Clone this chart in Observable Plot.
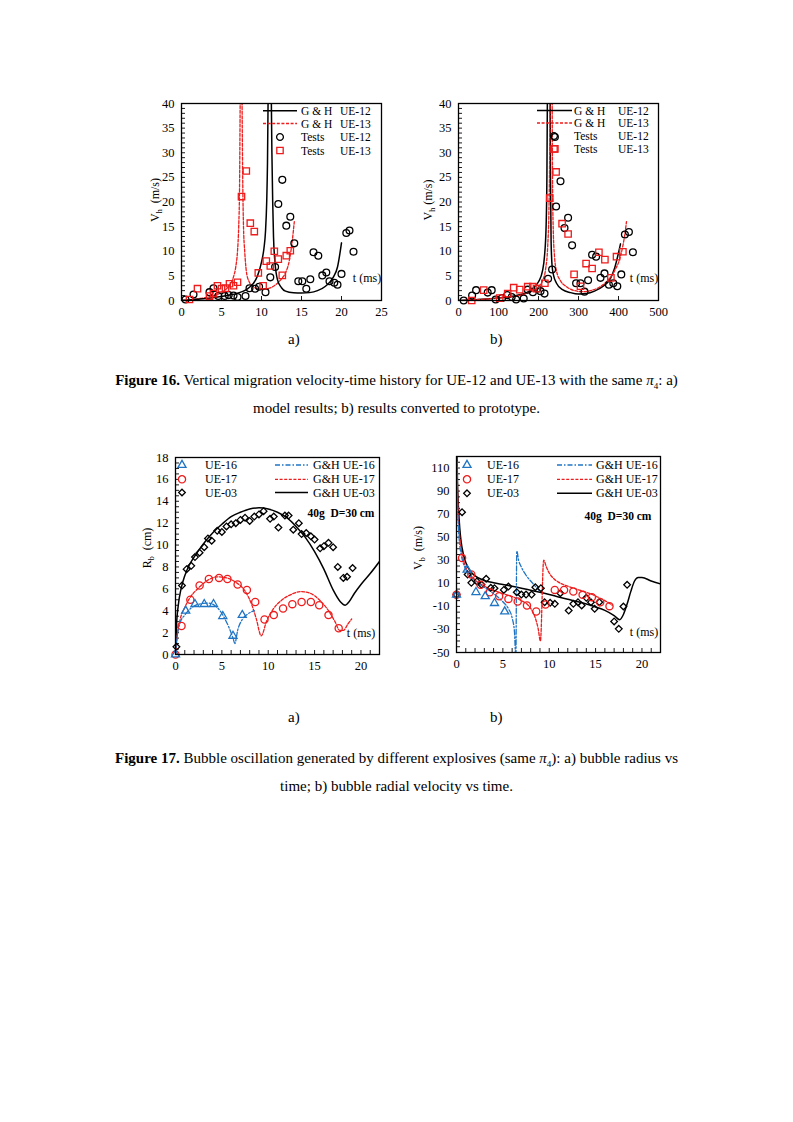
<!DOCTYPE html>
<html><head><meta charset="utf-8">
<script src="https://cdn.jsdelivr.net/npm/d3@7"></script>
<script src="https://cdn.jsdelivr.net/npm/@observablehq/plot@0.6"></script>
<style>
body{margin:0;background:#fff;width:793px;height:1122px;position:relative;overflow:hidden;font-family:"Liberation Serif","Times New Roman",serif;color:#000;}
.t{position:absolute;white-space:nowrap;}
.cap{position:absolute;left:0;width:793px;text-align:center;font-size:15px;line-height:18px;white-space:nowrap;}
.ylab{position:absolute;font-size:12px;white-space:nowrap;transform:translate(-50%,-50%) rotate(-90deg);}
</style></head><body>
<script>
// ---------------- DATA ----------------
// Figure 16 a) model scale (t in ms, Vh in m/s)
const testsUE12_a = [[0.5,0.2],[1.5,1.2],[3.5,1.7],[4.0,2.5],[4.6,0.9],[5.4,0.9],[5.9,1.1],[6.5,1.0],[7.0,0.7],[8.0,0.9],[8.5,2.5],[9.2,2.4],[9.7,2.8],[10.5,1.7],[11.1,4.7],[11.7,6.8],[12.1,19.6],[12.6,24.5],[13.1,15.2],[13.6,17.0],[14.1,11.6],[14.6,3.9],[15.1,3.9],[15.6,2.4],[16.1,4.3],[16.5,9.8],[17.1,9.1],[17.6,5.1],[18.1,5.7],[18.5,3.9],[19.1,3.6],[19.5,3.2],[20.0,5.4],[20.6,13.7],[21.0,14.2],[21.5,9.9]];
const testsUE13_a = [[1.0,0.2],[2.0,2.4],[3.5,0.9],[4.0,1.4],[4.5,3.0],[5.0,2.4],[5.5,2.5],[6.0,3.4],[6.5,3.0],[7.0,3.7],[7.5,21.1],[8.1,26.3],[8.6,15.7],[9.1,14.0],[9.6,5.6],[10.2,3.0],[10.6,8.0],[11.1,7.0],[11.6,10.0],[12.1,8.4],[12.6,5.1],[13.1,9.1],[13.6,10.1]];
const ghUE12_a_rise = [[0,0],[1,0.1],[2,0.25],[3,0.4],[4,0.6],[5,0.8],[6,1.1],[7,1.5],[8,2.1],[8.5,2.7],[9,3.5],[9.5,5.0],[10,7.8],[10.3,10.5],[10.5,14],[10.65,20],[10.75,28],[10.85,45]];
const ghUE12_a_fall = [[11.2,45],[11.3,30],[11.4,20],[11.5,13],[11.7,7.5],[12,4.2],[12.5,2.6],[13,1.9],[14,1.55],[15,1.5],[16,1.6],[17,2.0],[18,2.9],[19,4.8],[19.5,6.8],[20,11.7]];
const ghUE13_a_rise = [[0,0],[1,0.15],[2,0.35],[3,0.6],[4,1.0],[5,1.6],[5.5,2.2],[6,3.1],[6.5,4.8],[6.8,7],[7.0,10],[7.15,15],[7.25,22],[7.35,45]];
const ghUE13_a_fall = [[7.55,45],[7.65,25],[7.75,15],[7.9,10],[8.1,6],[8.4,4],[9,2.8],[9.5,2.4],[10,2.3],[10.5,2.3],[11,2.5],[11.5,2.9],[12,3.5],[12.5,4.4],[13,5.6],[13.5,8.3],[13.8,11.5],[14.1,16]];

// Figure 16 b) prototype scale
const testsUE12_b = [[13,0],[34,1.0],[44,2.1],[73,1.6],[83,2.1],[93,0.2],[109,0.5],[122,1.1],[133,0.7],[144,0.2],[163,0.4],[173,2.2],[186,1.7],[197,2.4],[205,1.9],[215,1.4],[224,4.4],[234,6.3],[241,33.2],[244,19.1],[255,24.2],[265,14.7],[274,16.8],[284,11.2],[294,3.5],[305,3.5],[315,1.8],[324,4.1],[334,9.3],[344,8.9],[355,4.6],[365,5.5],[376,3.2],[387,3.5],[397,2.9],[407,5.3],[416,13.4],[426,13.9],[436,9.8]];
const testsUE13_b = [[33,0],[63,2.1],[103,0.5],[123,1.4],[138,2.6],[153,2.2],[173,2.8],[186,2.8],[195,2.4],[216,3.5],[228,20.8],[241,30.8],[244,26.1],[259,15.6],[274,13.5],[289,5.3],[305,2.9],[319,7.5],[334,6.5],[351,9.8],[366,8.3],[381,4.6],[395,8.9],[411,9.9]];
const ghUE12_b_rise = [[0,0],[50,0.2],[100,0.5],[150,1.1],[175,1.8],[190,2.8],[200,3.8],[210,6],[215,9],[219,15],[221,25],[222.5,45]];
const ghUE12_b_fall = [[229,45],[230,25],[231.5,12],[234,7],[238,5],[245,3.5],[260,2.2],[280,1.6],[300,1.3],[320,1.4],[340,1.9],[360,2.8],[380,4.5],[390,6.5],[405,11.5]];
const ghUE13_b_rise = [[0,0],[50,0.2],[100,0.5],[150,1.0],[175,1.6],[200,2.8],[210,4],[218,6.5],[223,11],[226,18],[228,30],[229,45]];
const ghUE13_b_fall = [[234,45],[235,25],[237,14],[240,9],[245,6],[255,4],[270,2.8],[290,2.0],[310,1.8],[330,2.0],[350,2.6],[370,3.8],[390,6],[405,9],[415,13],[420,16]];

// Figure 17 a) bubble radius (cm)
const ue16R = [[0,0],[1.1,4.0],[2.1,4.6],[3.1,4.6],[4.1,4.6],[5.1,3.5],[6.2,1.7],[7.2,3.6]];
const ue17R = [[0,0],[0.65,2.6],[1.6,5.0],[2.6,6.3],[3.6,6.9],[4.7,7.0],[5.6,6.9],[6.7,6.4],[7.7,5.9],[8.6,4.8],[9.6,3.2],[10.6,3.6],[11.6,4.2],[12.6,4.6],[13.6,4.8],[14.6,4.8],[15.5,4.5],[16.5,3.6],[17.6,2.4]];
const ue03R = [[0.1,0.7],[0.7,6.3],[1.2,7.8],[1.7,8.1],[2.1,8.9],[2.6,9.3],[3.1,9.8],[3.5,10.6],[3.9,10.4],[4.5,11.3],[5.0,11.2],[5.5,11.7],[6.0,11.9],[6.5,12.0],[7.0,12.3],[7.5,12.5],[8.0,12.2],[8.5,12.6],[9.0,12.8],[9.5,13.1],[10.2,12.4],[10.6,12.6],[11.1,11.6],[11.8,12.7],[12.2,12.7],[12.7,11.4],[13.3,12.0],[13.6,11.0],[14.1,11.1],[14.6,10.8],[15.0,10.5],[15.6,9.7],[16.0,9.9],[16.5,10.2],[17.0,9.8],[17.5,8.0],[18.1,7.0],[18.5,7.1],[19.1,7.9]];
const ghUE16R = [[0,0],[0.2,1.8],[0.5,2.9],[1,3.6],[1.5,4.1],[2.5,4.6],[3.5,4.7],[4.2,4.5],[4.8,4.0],[5.3,3.3],[5.8,2.4],[6.2,1.5],[6.4,1.0],[6.7,2.2],[7.2,3.2],[7.8,3.7],[8.5,4.0]];
const ghUE17R = [[0,0],[0.2,1.8],[0.5,3.2],[1,4.3],[1.5,5.1],[2.5,6.1],[3.5,6.8],[4.5,7.1],[5.5,7.0],[6.5,6.6],[7.5,5.8],[8.2,4.6],[8.7,3.3],[9.25,1.7],[9.8,3.0],[10.5,4.1],[11.5,5.0],[12.5,5.5],[13.5,5.75],[14.5,5.6],[15.5,5.0],[16.5,4.0],[17.2,3.0],[17.7,2.2],[18.1,2.2],[18.6,2.8],[19,3.25]];
const ghUE03R = [[0,0],[0.1,2.5],[0.3,4.5],[0.6,6.0],[1,7.2],[1.5,8.2],[2,8.9],[3,10.1],[4,11.1],[5,11.9],[6,12.6],[7,13.0],[8,13.3],[9,13.4],[10,13.3],[11,13.0],[12,12.5],[13,11.7],[14,10.7],[15,9.4],[16,7.8],[17,5.9],[17.8,4.8],[18.3,4.5],[18.7,4.8],[19.3,5.6],[20,6.4],[21,7.4],[22,8.5]];

// Figure 17 b) bubble radial velocity (m/s)
const ue16V = [[0,0],[1.15,21.7],[2.1,2.3],[3.1,-1.2],[4.1,-7.2],[5.2,-14.5]];
const ue17V = [[0,0],[0.6,32],[1.6,17.6],[2.6,8.7],[3.6,2.3],[4.6,-1.2],[5.6,-3.5],[6.6,-5.8],[7.6,-9.2],[8.6,-14.5],[9.6,-8.4],[10.6,4.3],[11.6,4.3],[12.6,2.9],[13.6,0],[14.6,-2],[15.5,-6.4],[16.5,-9.8]];
const ue03V = [[0,0],[0.6,71.7],[1.2,17.6],[1.6,10.4],[2.2,11.6],[2.7,8.7],[3.2,13.9],[3.7,6.1],[4.1,5.8],[5.1,4.3],[5.6,7.2],[6.5,2.3],[7.0,0.3],[7.5,0.3],[8.1,0.3],[8.5,6.6],[9.1,5.8],[9.5,-6.4],[10.1,-6.9],[10.6,-7.8],[11.2,1.4],[12.1,-13.6],[12.6,-7.8],[13.1,-6.4],[13.5,-9.2],[14.0,-2.6],[14.5,-6.4],[14.9,-12.1],[15.4,-6.4],[17.0,-23.1],[17.5,-29.5],[18.0,-10.1],[18.4,8.7]];
const ghUE16V = [[0.05,115],[0.1,85],[0.2,60],[0.35,43],[0.5,35],[0.75,27],[1,22],[1.5,16],[2,12],[3,6.5],[4,1],[5,-6],[5.6,-12],[6.0,-20],[6.25,-32],[6.4,-55],[6.5,38],[6.7,30],[7,24],[7.5,17],[8,12],[8.5,7.5],[8.9,4]];
const ghUE17V = [[0.05,120],[0.1,95],[0.2,68],[0.35,50],[0.5,40],[0.75,30],[1,24],[1.5,17.5],[2,13],[3,7.5],[4,4],[5,1],[6,-1.5],[7,-5],[7.6,-8],[8.1,-13],[8.5,-20],[8.8,-29],[9.05,-40],[9.4,30],[9.7,24],[10,19],[10.5,14],[11,11],[12,7.5],[13,4.8],[14,2.2],[15,-1],[16,-5],[16.8,-9]];
const ghUE03V = [[0.05,125],[0.1,100],[0.2,78],[0.35,58],[0.5,46],[0.75,35],[1,28],[1.5,20.5],[2,16.5],[3,12.5],[4,10.5],[5,9],[6,7.5],[7,5.8],[8,4],[9,2.2],[10,0.3],[11,-1.8],[12,-3.8],[13,-5.8],[14,-8],[15,-10.5],[16,-13.5],[17,-18],[17.6,-21.5],[18,-17],[18.4,-8],[18.8,3],[19.2,12],[19.6,15],[20,15],[21,12],[22,9.5]];

// tick labels
const ticks16aX = [0,5,10,15,20,25];
const ticks16bX = [0,100,200,300,400,500];
const ticks16Y = [0,5,10,15,20,25,30,35,40];
const ticks17X = [0,5,10,15,20];
const ticks17aY = [0,2,4,6,8,10,12,14,16,18];
const ticks17bY = [-50,-30,-10,10,30,50,70,90,110];

// ---------------- DRAWING ----------------
const FONT = '"Liberation Serif","Times New Roman",serif';
const RED = "#ee1c1c", BLUE = "#1f74c4";
const seg = (...arrs) => arrs.flatMap((a, k) => a.map(([t, v]) => ({t, v, s: k})));
const pts = a => a.map(([t, v]) => ({t, v}));

function chart({frame: [L, T, R, B], xDomain, yDomain, xTicks, yTicks, xMinor, yMinor, marks}) {
  const mL = 45, mT = 10, mR = 10, mB = 30;
  const w = R - L, h = B - T;
  const svg = Plot.plot({
    width: w + mL + mR, height: h + mT + mB,
    marginLeft: mL, marginTop: mT, marginRight: mR, marginBottom: mB,
    style: {fontFamily: FONT, fontSize: "12.5px", color: "black", background: "transparent", overflow: "visible"},
    x: {domain: xDomain, label: null},
    y: {domain: yDomain, label: null},
    marks: [
      Plot.axisX({ticks: xTicks, tickSize: 0, tickPadding: 7, label: null, fontSize: 12.5, tickFormat: d => String(d)}),
      Plot.axisY({ticks: yTicks, tickSize: 0, tickPadding: 7, label: null, fontSize: 12.5, tickFormat: d => String(d)}),
      Plot.tickY(yMinor, {y: d => d, insetRight: w - 4, stroke: "black", strokeWidth: 0.9}),
      Plot.tickX(xMinor, {x: d => d, insetTop: h - 4, stroke: "black", strokeWidth: 0.9}),
      ...marks,
      Plot.frame({stroke: "black", strokeWidth: 1.3})
    ]
  });
  svg.style.position = "absolute";
  svg.style.left = (L - mL) + "px";
  svg.style.top = (T - mT) + "px";
  document.body.appendChild(svg);
}
const lineM = (data, stroke, dash, sw = 1.4) => Plot.line(data, {x: "t", y: "v", z: "s", stroke, strokeWidth: sw, strokeDasharray: dash, curve: "monotone-x", clip: true});
const dotM = (data, symbol, stroke, r = 3.4) => Plot.dot(pts(data), {x: "t", y: "v", symbol, r, stroke, strokeWidth: 1.3, fill: "none"});

// Fig 16 a
chart({frame: [181, 103, 381, 300], xDomain: [0, 25], yDomain: [0, 40], xTicks: ticks16aX, yTicks: ticks16Y,
  xMinor: ticks16aX, yMinor: d3.range(0, 41, 1),
  marks: [
    lineM(seg(ghUE13_a_rise, ghUE13_a_fall), RED, "3,1.6", 1.3),
    lineM(seg(ghUE12_a_rise, ghUE12_a_fall), "black", null, 1.5),
    dotM(testsUE12_a, "circle", "black"),
    dotM(testsUE13_a, "square", RED, 3.6)
  ]});
// Fig 16 b
chart({frame: [458, 103, 658, 300], xDomain: [0, 500], yDomain: [0, 40], xTicks: ticks16bX, yTicks: ticks16Y,
  xMinor: ticks16bX, yMinor: d3.range(0, 41, 1),
  marks: [
    lineM(seg(ghUE12_b_rise, ghUE12_b_fall), "black", null, 1.5),
    lineM(seg(ghUE13_b_rise, ghUE13_b_fall), RED, "3,1.6", 1.3),
    dotM(testsUE12_b, "circle", "black"),
    dotM(testsUE13_b, "square", RED, 3.6)
  ]});
// Fig 17 a
chart({frame: [175, 457, 379, 654], xDomain: [0, 22], yDomain: [0, 18], xTicks: ticks17X, yTicks: ticks17aY,
  xMinor: d3.range(0, 23, 1), yMinor: d3.range(0, 18.01, 0.5),
  marks: [
    lineM(seg(ghUE03R), "black", null, 1.5),
    lineM(seg(ghUE17R), RED, "3,1.6", 1.3),
    lineM(seg(ghUE16R), BLUE, "5,2,1.5,2", 1.3),
    dotM(ue03R, "diamond2", "black", 3.0),
    dotM(ue17R, "circle", RED, 3.6),
    dotM(ue16R, "triangle", BLUE, 3.0)
  ]});
// Fig 17 b
chart({frame: [456, 456, 660, 652], xDomain: [0, 22], yDomain: [-50, 120], xTicks: ticks17X, yTicks: ticks17bY,
  xMinor: d3.range(0, 23, 1), yMinor: d3.range(-50, 121, 5),
  marks: [
    lineM(seg(ghUE03V), "black", null, 1.5),
    lineM(seg(ghUE17V), RED, "3,1.6", 1.3),
    lineM(seg(ghUE16V), BLUE, "5,2,1.5,2", 1.3),
    dotM(ue03V, "diamond2", "black", 3.0),
    dotM(ue17V, "circle", RED, 3.6),
    dotM(ue16V, "triangle", BLUE, 3.0)
  ]});

// ---------------- overlay: legends & annotations ----------------
const ov = d3.select("body").append("svg").attr("width", 793).attr("height", 1122)
  .style("position", "absolute").style("left", 0).style("top", 0).style("font-family", FONT);
function lgLine(x1, x2, y, stroke, dash, sw) {
  ov.append("line").attr("x1", x1).attr("x2", x2).attr("y1", y).attr("y2", y)
    .attr("stroke", stroke).attr("stroke-width", sw).attr("stroke-dasharray", dash);
}
const SYM = {circle: d3.symbolCircle, square: d3.symbolSquare, triangle: d3.symbolTriangle, diamond2: d3.symbolDiamond2};
function lgSym(x, y, s, stroke, r) {
  ov.append("path").attr("transform", `translate(${x},${y})`).attr("d", d3.symbol(SYM[s], Math.PI * r * r)())
    .attr("fill", "none").attr("stroke", stroke).attr("stroke-width", 1.3);
}
function txt(x, y, s, size = 12, weight = "normal", anchor = "start") {
  ov.append("text").attr("x", x).attr("y", y).attr("font-size", size).attr("font-weight", weight)
    .attr("text-anchor", anchor).attr("dominant-baseline", "central").style("white-space", "pre").text(s);
}
// 16a legend
[[110.7, "line", "black", null, "G & H", "UE-12"], [123.5, "line", RED, "3,1.6", "G & H", "UE-13"],
 [137, "circle", "black", null, "Tests", "UE-12"], [150.5, "square", RED, null, "Tests", "UE-13"]].forEach(([y, k, c, d, a, b]) => {
  if (k === "line") lgLine(263, 297, y, c, d, c === "black" ? 1.5 : 1.3); else lgSym(280, y, k, c, k === "square" ? 3.6 : 3.4);
  txt(301, y, a, 11.5); txt(340, y, b, 11.5);
});
// 16b legend
[[110.5, "line", "black", null, "G & H", "UE-12"], [123, "line", RED, "3,1.6", "G & H", "UE-13"],
 [136, "circle", "black", null, "Tests", "UE-12"], [149, "square", RED, null, "Tests", "UE-13"]].forEach(([y, k, c, d, a, b]) => {
  if (k === "line") lgLine(537, 572, y, c, d, c === "black" ? 1.5 : 1.3); else lgSym(554, y, k, c, k === "square" ? 3.6 : 3.4);
  txt(574, y, a, 11.5); txt(618, y, b, 11.5);
});
// 17 legends
function leg17(mx, tx, lx1, lx2, ltx, ys) {
  const rows = [["triangle", BLUE, 3.0, "UE-16", "5,2,1.5,2", 1.3, "G&H UE-16"],
                ["circle", RED, 3.6, "UE-17", "3,1.6", 1.3, "G&H UE-17"],
                ["diamond2", "black", 3.0, "UE-03", null, 1.5, "G&H UE-03"]];
  rows.forEach(([s, c, r, lab, dash, sw, glab], i) => {
    lgSym(mx, ys[i], s, c, r); txt(tx, ys[i], lab);
    lgLine(lx1, lx2, ys[i], c, dash, sw); txt(ltx, ys[i], glab);
  });
}
leg17(182, 205, 275, 308, 313, [465, 479.3, 492.5]);
leg17(467, 487, 557, 592, 596, [465, 479.3, 493.3]);
txt(341, 513, "40g  D=30 cm", 11.5, "bold", "middle");
txt(618, 516, "40g  D=30 cm", 11.5, "bold", "middle");
txt(367, 278, "t (ms)", 12, "normal", "middle");
txt(644, 278, "t (ms)", 12, "normal", "middle");
txt(361, 633, "t (ms)", 12, "normal", "middle");
txt(644, 632, "t (ms)", 12, "normal", "middle");

// ---------------- HTML texts ----------------
function html(cls, css, inner) {
  const d = document.createElement("div"); d.className = cls; d.style.cssText = css; d.innerHTML = inner;
  document.body.appendChild(d);
}
html("ylab", "left:156px;top:200px;", "V<sub style='font-size:8px'>h</sub>&nbsp; (m/s)");
html("ylab", "left:429px;top:200px;", "V<sub style='font-size:8px'>h</sub> (m/s)");
html("ylab", "left:148px;top:548px;", "R<sub style='font-size:8px'>b</sub>&nbsp; (cm)");
html("ylab", "left:419px;top:548px;", "V<sub style='font-size:8px'>b</sub>&nbsp; (m/s)");
html("t", "left:288px;top:331px;font-size:15px;", "a)");
html("t", "left:490px;top:331px;font-size:15px;", "b)");
html("t", "left:288px;top:709px;font-size:15px;", "a)");
html("t", "left:490px;top:709px;font-size:15px;", "b)");
html("cap", "top:371px;", "<b>Figure 16.</b> Vertical migration velocity-time history for UE-12 and UE-13 with the same <i>π</i><sub style='font-size:9px;line-height:0'>4</sub>: a)");
html("cap", "top:399px;", "model results; b) results converted to prototype.");
html("cap", "top:749px;", "<b>Figure 17.</b> Bubble oscillation generated by different explosives (same <i>π</i><sub style='font-size:9px;line-height:0'>4</sub>): a) bubble radius vs");
html("cap", "top:777px;", "time; b) bubble radial velocity vs time.");
</script>
</body></html>
